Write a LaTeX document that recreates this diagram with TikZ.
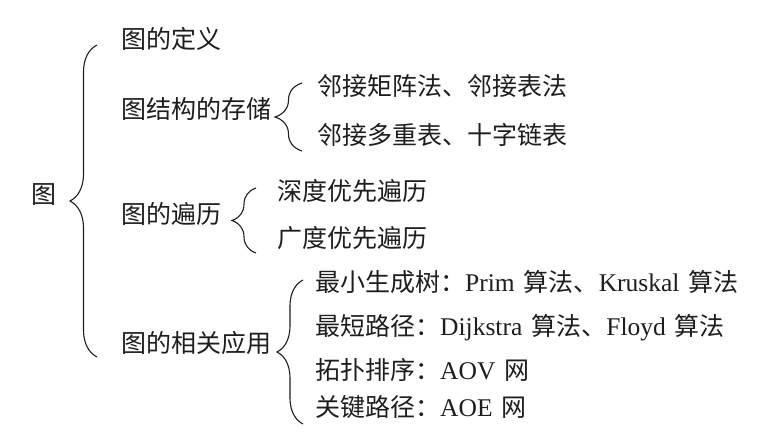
\documentclass[tikz,border=0pt]{standalone}
\usepackage{fontspec}
\setmainfont{Liberation Serif}
\newfontfamily\cjk{Noto Sans CJK SC}
\usetikzlibrary{decorations.pathreplacing}
\definecolor{ink}{HTML}{1E1E1E}
\newcommand{\lt}[1]{{\fontsize{25.5}{27}\selectfont #1}}
\begin{document}
\begin{tikzpicture}[x=1pt,y=-1pt,
  lbl/.style={anchor=west,inner sep=0pt,text=ink,font=\fontsize{25}{27}\selectfont,
              text height=0.86em,text depth=0.14em},
  brc/.style={draw=ink,line width=1.1pt,decorate,
              decoration={brace,amplitude=#1,aspect=0.5}},
  brc/.default=26pt]
\path[fill=white] (0,0) rectangle (766,443);
\useasboundingbox (0,0) rectangle (766,443);

% root and first level
\node[lbl] (root) at (31,200) {\cjk 图};
\node[lbl] (def)  at (121,45)  {\cjk 图的定义};
\node[lbl] (sto)  at (121,115) {\cjk 图结构的存储};
\node[lbl] (trv)  at (121,220) {\cjk 图的遍历};
\node[lbl] (app)  at (121,349) {\cjk 图的相关应用};

% storage
\node[lbl] (stoA) at (317,92)  {\cjk 邻接矩阵法、邻接表法};
\node[lbl] (stoB) at (317,141) {\cjk 邻接多重表、十字链表};

% traversal
\node[lbl] (trvA) at (277,197) {\cjk 深度优先遍历};
\node[lbl] (trvB) at (277,244) {\cjk 广度优先遍历};

% applications
\node[lbl] (appA) at (315,288) {{\cjk 最小生成树：}\lt{Prim}\hspace{0.36em}{\cjk 算法、}\lt{Kruskal}\hspace{0.36em}{\cjk 算法}};
\node[lbl] (appB) at (315,332) {{\cjk 最短路径：}\lt{Dijkstra}\hspace{0.36em}{\cjk 算法、}\lt{Floyd}\hspace{0.36em}{\cjk 算法}};
\node[lbl] (appC) at (315,376) {{\cjk 拓扑排序：}\lt{AOV}\hspace{0.36em}{\cjk 网}};
\node[lbl] (appD) at (315,413) {{\cjk 关键路径：}\lt{AOE}\hspace{0.36em}{\cjk 网}};

% brace end points
\coordinate (b0t) at (97,45);   \coordinate (b0b) at (97,357);
\coordinate (b1t) at (302,83);  \coordinate (b1b) at (302,151);
\coordinate (b2t) at (256,188); \coordinate (b2b) at (256,253);
\coordinate (b3t) at (303,280); \coordinate (b3b) at (303,424);

\draw[brc=27pt] (b0b) -- (b0t);
\draw[brc=27pt] (b1b) -- (b1t);
\draw[brc=24pt] (b2b) -- (b2t);
\draw[brc=26pt] (b3b) -- (b3t);
\end{tikzpicture}
\end{document}
